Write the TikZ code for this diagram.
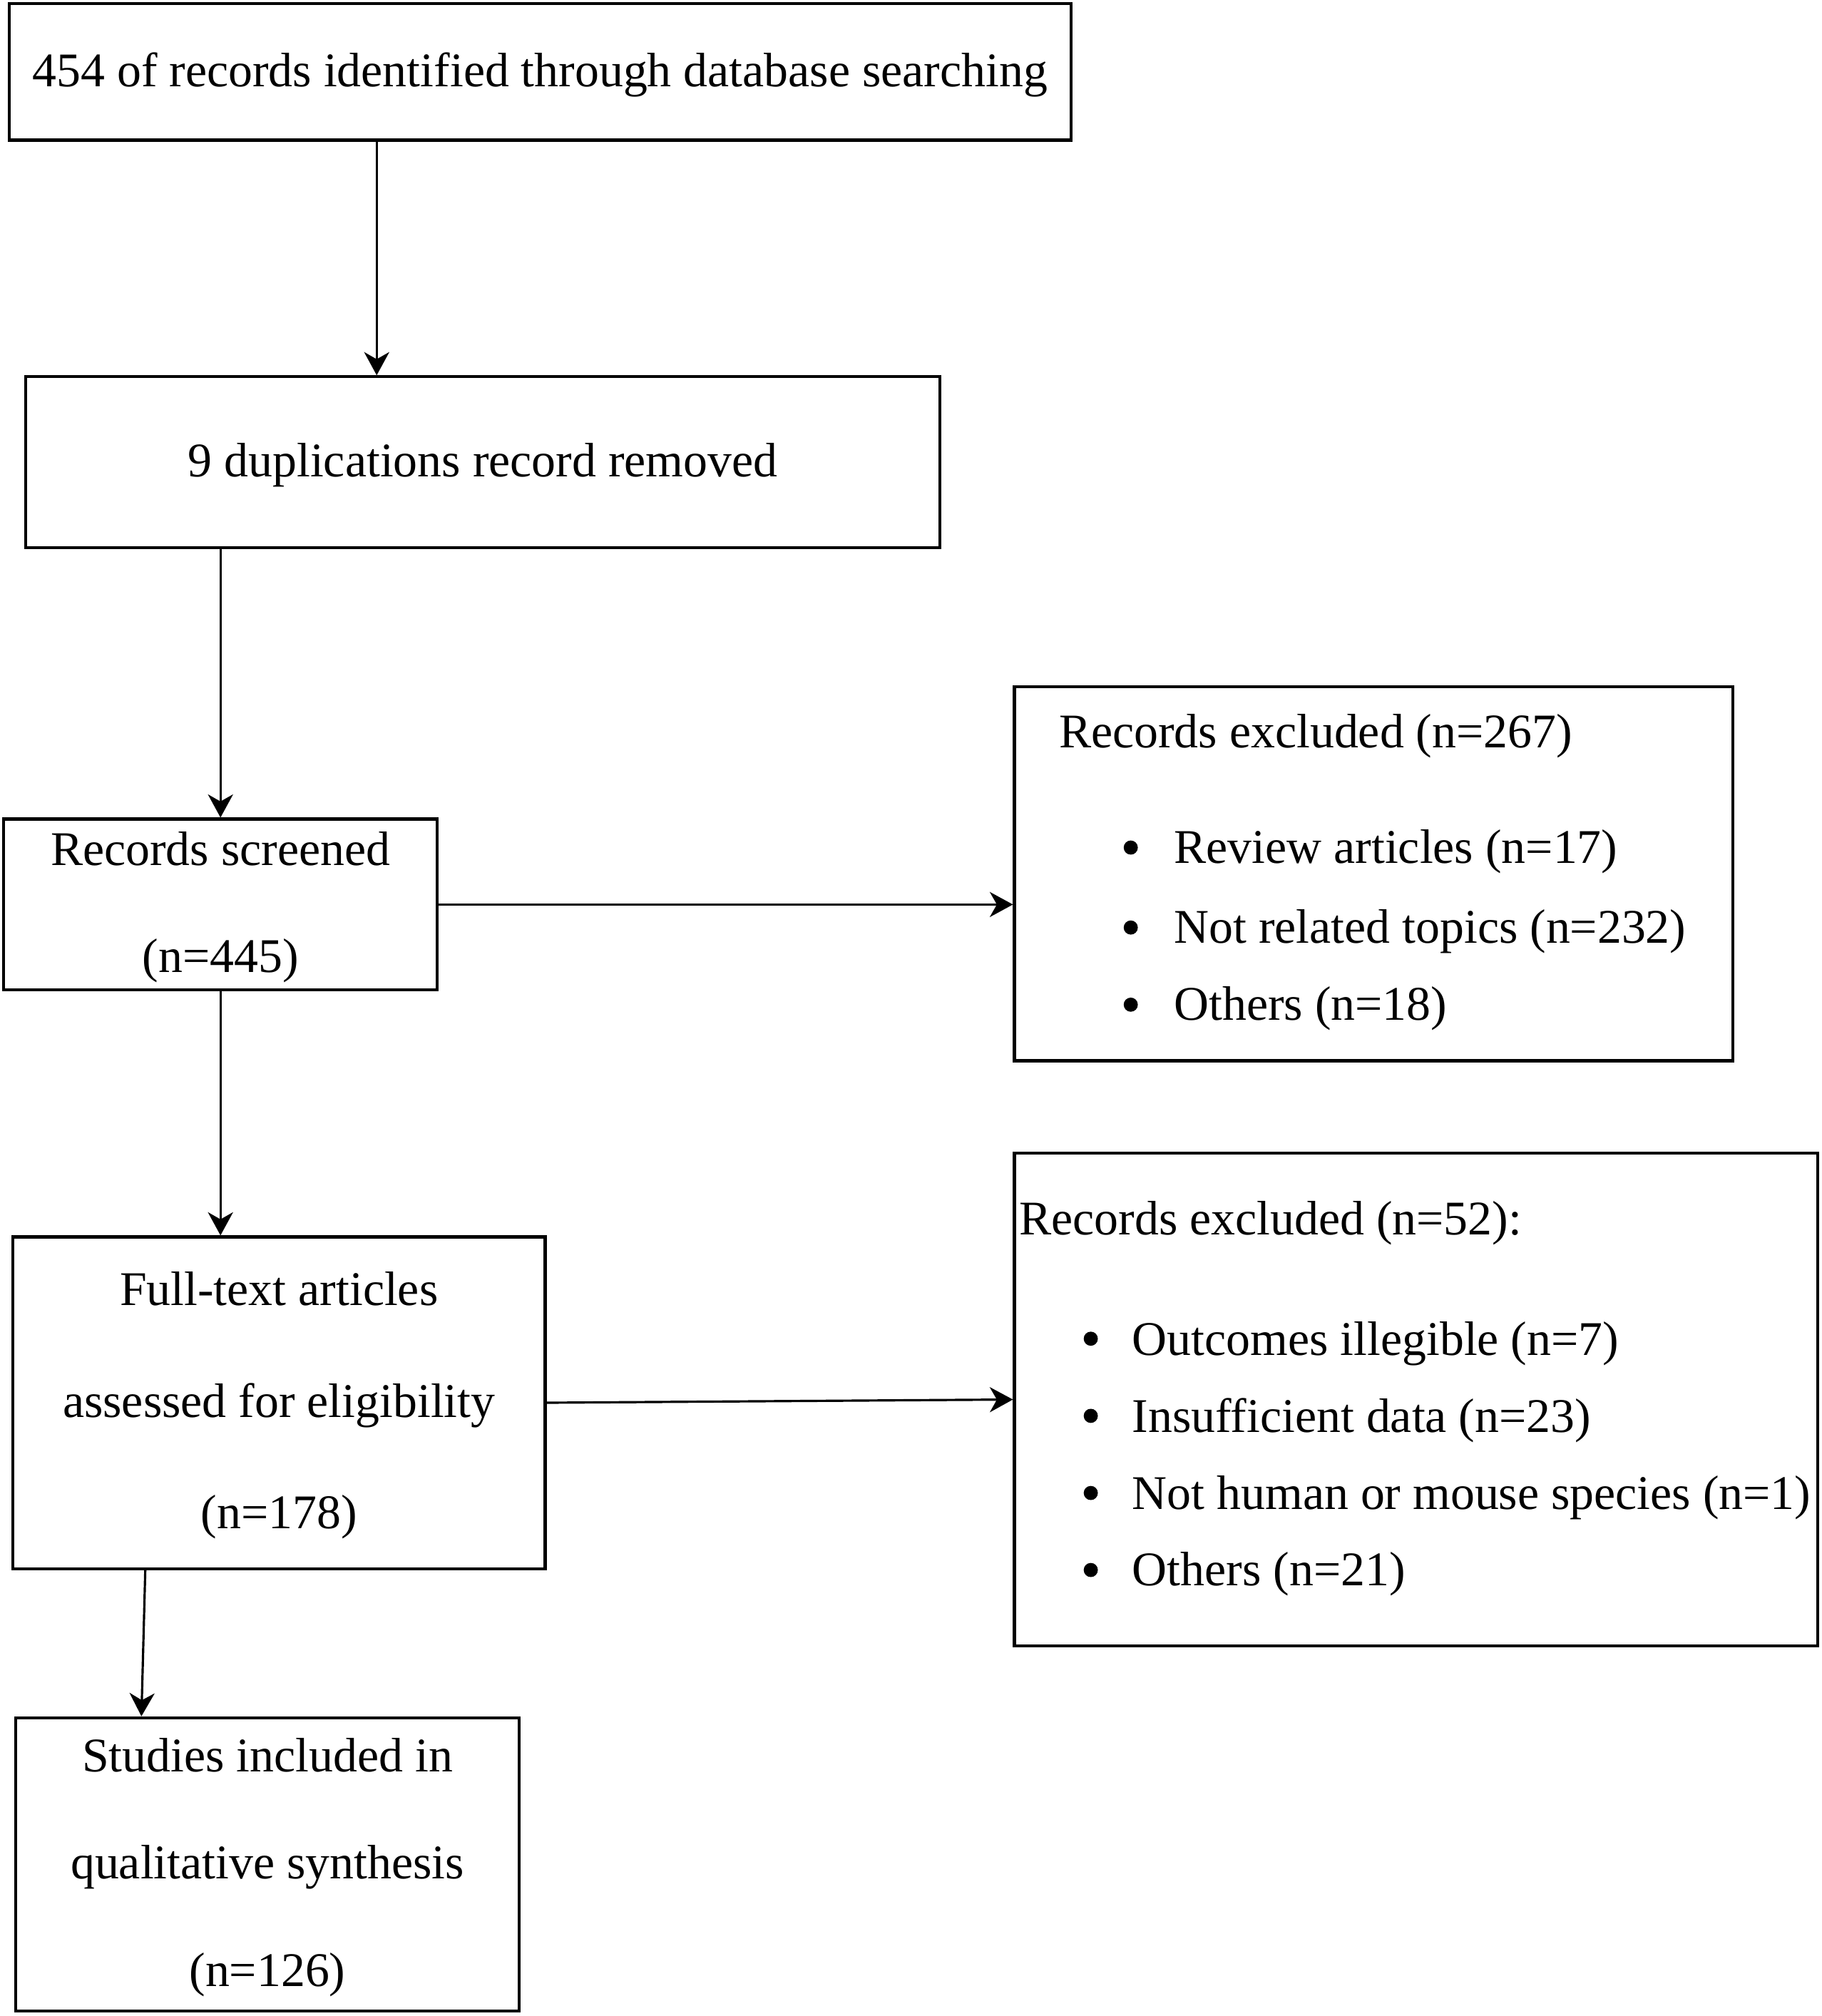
\documentclass[tikz,border=0pt]{standalone}
\usepackage{fontspec}
\setmainfont{Liberation Serif}
\usetikzlibrary{arrows.meta}

\newcommand{\topstrut}{\rule{0pt}{3.05mm}}

\begin{document}
\begin{tikzpicture}[x=0.1mm, y=-0.1mm,
    box/.style={draw, line width=0.65pt, inner sep=0pt, align=center, font=\fontsize{10.7}{23.6}\selectfont},
    txt/.style={inner sep=0pt, anchor=base west, font=\fontsize{10.7}{13}\selectfont},
    arr/.style={-{Stealth[length=1.8mm,width=1.95mm,inset=0.55mm]}, line width=0.5pt}]

    \useasboundingbox (0,0) rectangle (1417,1568);

    % main column
    \node[box, minimum width=82.6mm, minimum height=10.6mm] at (420,56) (ident) {\topstrut 454 of records identified through database searching};
    \node[box, minimum width=71.1mm, minimum height=13.3mm] at (375.5,359.5) (dup) {\topstrut 9 duplications record removed};
    \node[box, minimum width=33.7mm, minimum height=13.3mm] at (171.5,703.5) (scr) {\topstrut Records screened\\(n=445)};
    \node[box, minimum width=41.4mm, minimum height=25.8mm, font=\fontsize{10.7}{24.7}\selectfont] at (217,1091) (full) {\topstrut Full-text articles\\assessed for eligibility\\(n=178)};
    \node[box, minimum width=39.2mm, minimum height=22.8mm, font=\fontsize{10.7}{23.75}\selectfont] at (208,1450) (incl) {\topstrut Studies included in\\qualitative synthesis\\(n=126)};

    % exclusion boxes
    \node[box, minimum width=55.9mm, minimum height=29.1mm] at (1068.5,679.5) (excla) {};
    \node[txt] at (823,581.5) (excla0) {Records excluded (n=267)};
    \node[txt] at (912.5,671.3) (excla1) {Review articles (n=17)};
    \node[txt] at (912.5,733.5) (excla2) {Not related topics (n=232)};
    \node[txt] at (912.5,793.5) (excla3) {Others (n=18)};
    \fill (879.5,659.2) circle (0.55mm) (879.5,721.4) circle (0.55mm) (879.5,781.4) circle (0.55mm);

    \node[box, minimum width=62.5mm, minimum height=38.3mm] at (1101.5,1088.5) (exclb) {};
    \node[txt] at (792,960.5) (exclb0) {Records excluded (n=52):};
    \node[txt] at (880,1054.1) (exclb1) {Outcomes illegible (n=7)};
    \node[txt] at (880,1114) (exclb2) {Insufficient data (n=23)};
    \node[txt] at (880,1174) (exclb3) {Not human or mouse species (n=1)};
    \node[txt] at (880,1233.1) (exclb4) {Others (n=21)};
    \fill (848.4,1041.2) circle (0.55mm) (848.4,1101.2) circle (0.55mm) (848.4,1161.2) circle (0.55mm) (848.4,1221.1) circle (0.55mm);

    % arrows
    \draw[arr] (ident.south -| 293,0) -- (dup.north -| 293,0);
    \draw[arr] (dup.south -| scr.north) -- (scr.north);
    \draw[arr] (scr.east) -- (scr.east -| excla.west);
    \draw[arr] (scr.south) -- (full.north -| scr.south);
    \draw[arr] (full.east) -- (exclb.west);
    \draw[arr] (full.south -| 113,0) -- (incl.north -| 110,0);

\end{tikzpicture}
\end{document}
